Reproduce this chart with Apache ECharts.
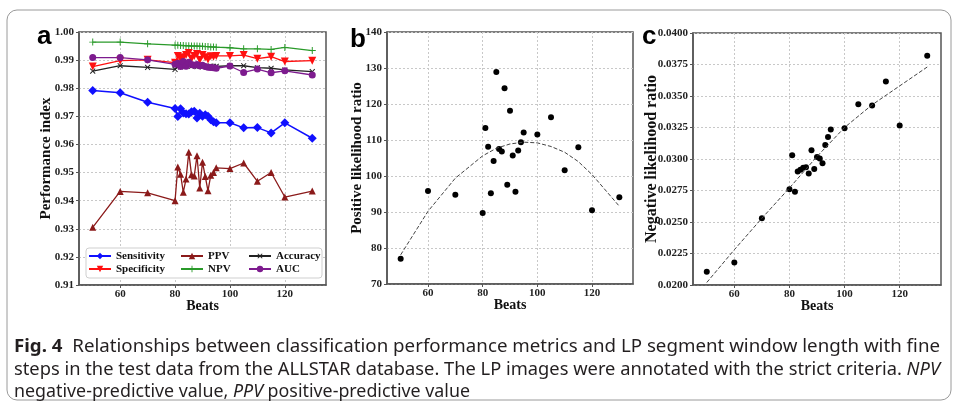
<!DOCTYPE html>
<html><head><meta charset="utf-8">
<script src="https://cdn.jsdelivr.net/npm/echarts@6/dist/echarts.min.js"></script>
<style>html,body{margin:0;padding:0;background:#fff}#c{width:956px;height:407px}</style>
</head><body><div id="c"></div>
<script>
// ---------- data ----------
const beats = [50,60,70,80,81,82,83,84,85,86,87,88,89,90,91,92,93,94,95,100,105,110,115,120,130];
const sensitivity = [0.9792,0.9784,0.9750,0.9728,0.9699,0.9727,0.9712,0.9709,0.9708,0.9716,0.9718,0.9694,0.9711,0.9700,0.9706,0.9700,0.9688,0.9681,0.9677,0.9677,0.9659,0.9660,0.9641,0.9677,0.9622];
const specificity = [0.9877,0.9898,0.9901,0.9891,0.9915,0.9905,0.9910,0.9918,0.9925,0.9905,0.9915,0.9922,0.9900,0.9918,0.9910,0.9902,0.9914,0.9912,0.9915,0.9915,0.9918,0.9905,0.9912,0.9895,0.9898];
const ppv = [0.9305,0.9433,0.9428,0.9400,0.9520,0.9494,0.9430,0.9477,0.9572,0.9492,0.9488,0.9560,0.9445,0.9537,0.9486,0.9435,0.9490,0.9500,0.9517,0.9514,0.9534,0.9469,0.9500,0.9413,0.9434];
const npv = [0.9964,0.9964,0.9958,0.9953,0.9953,0.9952,0.9952,0.9951,0.9951,0.9950,0.9950,0.9950,0.9949,0.9949,0.9948,0.9948,0.9947,0.9947,0.9946,0.9944,0.9940,0.9940,0.9938,0.9945,0.9934];
const accuracy = [0.9861,0.9880,0.9874,0.9867,0.9878,0.9876,0.9880,0.9879,0.9881,0.9878,0.9880,0.9877,0.9879,0.9876,0.9878,0.9877,0.9879,0.9878,0.9878,0.9880,0.9880,0.9873,0.9871,0.9865,0.9859];
const auc = [0.9909,0.9909,0.9901,0.9885,0.9889,0.9877,0.9895,0.9878,0.9892,0.9884,0.9882,0.9884,0.9880,0.9882,0.9877,0.9875,0.9874,0.9873,0.9871,0.9879,0.9856,0.9868,0.9855,0.9862,0.9847];
const plr = [77.0,95.8,94.8,89.7,113.3,108.1,95.2,104.2,128.9,107.5,106.8,124.4,97.6,118.1,105.7,95.6,107.1,109.4,112.1,111.5,116.3,101.6,108.0,90.5,94.1];
const nlr = [0.02105,0.02178,0.02530,0.02760,0.03030,0.02740,0.02900,0.02915,0.02930,0.02935,0.02885,0.03070,0.02920,0.03015,0.03003,0.02966,0.03112,0.03175,0.03235,0.03245,0.03435,0.03425,0.03615,0.03265,0.03820];
const plrFitBeats = [50,60,70,80,85,90,95,100,105,110,115,120,130];
const plrFit = [78.1,90.2,99.4,105.6,107.7,108.9,109.4,109.2,108.2,106.6,104.0,100.4,91.6];
const nlrFitBeats = [50,60,70,80,90,100,110,120,130];
const nlrFit = [0.0202,0.0228,0.0253,0.0277,0.0302,0.0325,0.0343,0.0358,0.0373];
const xTicks = [60,80,100,120];
// caption segments: [text, style] with style '' | 'b' | 'i'
const captionLines = [
  [['Fig. 4','b'], ['  Relationships between classification performance metrics and LP segment window length with fine','']],
  [['steps in the test data from the ALLSTAR database. The LP images were annotated with the strict criteria. ',''], ['NPV','i']],
  [['negative-predictive value, ',''], ['PPV','i'], [' positive-predictive value','']]
];

// ---------- helpers ----------
const SERIF = "'Liberation Serif','Times New Roman',serif";
const SANS = "'Liberation Sans',Arial,sans-serif";
const CAP = "'Noto Sans',sans-serif";
const CAPSIZE = 18;
const axisColor = '#555';
const gridLine = {show:true, lineStyle:{type:[2,2], color:'#c8c8c8', width:1}};
const tickFont = {fontFamily:SERIF, fontWeight:'bold', fontSize:11, color:'#222'};
function xAxisCfg(gi){
  return {type:'value', gridIndex:gi, min:45, max:135,
    name:'Beats', nameLocation:'middle', nameGap:14, nameMoveOverlap:false,
    nameTextStyle:{fontFamily:SERIF, fontWeight:'bold', fontSize:14, color:'#111'},
    axisLine:{show:true, onZero:false, lineStyle:{color:axisColor, width:1.5}},
    axisTick:{show:true, customValues:xTicks, length:3, lineStyle:{color:axisColor}},
    axisLabel:Object.assign({customValues:xTicks, margin:4}, tickFont),
    splitLine:gridLine};
}
function yAxisCfg(gi, min, max, interval, dec, name, gap, fs){
  return {type:'value', gridIndex:gi, min, max, interval,
    name, nameLocation:'middle', nameGap:gap, nameMoveOverlap:false,
    nameTextStyle:{fontFamily:SERIF, fontWeight:'bold', fontSize:fs, color:'#111'},
    axisLine:{show:true, onZero:false, lineStyle:{color:axisColor, width:1.5}},
    axisTick:{show:true, length:3, lineStyle:{color:axisColor}},
    axisLabel:Object.assign({formatter:v=>v.toFixed(dec), margin:5}, tickFont),
    splitLine:gridLine};
}
const PLUS = 'path://M4.3,0H5.7V4.3H10V5.7H5.7V10H4.3V5.7H0V4.3H4.3Z';
function lineSeries(name, vals, color, symbol, size, extra){
  return Object.assign({type:'line', name, xAxisIndex:0, yAxisIndex:0,
    data: beats.map((b,i)=>[b, vals[i]]), symbol, symbolSize:size,
    lineStyle:{color, width:1.3}, itemStyle:{color, opacity:1}, emphasis:{disabled:true}, animation:false}, extra||{});
}

// caption lines, each scaled to the width of the reference line
const cv = document.createElement('canvas').getContext('2d');
function segFont(s){ return (s==='b'?'bold ':s==='i'?'italic ':'') + CAPSIZE + 'px ' + CAP; }
const capTargets = [926, 926, 456];
const capRich = {
  b:{fontFamily:CAP, fontSize:CAPSIZE, fontWeight:'bold', fill:'#231f20'},
  i:{fontFamily:CAP, fontSize:CAPSIZE, fontStyle:'italic', fill:'#231f20'}
};
const capGraphics = captionLines.map((segs, li) => {
  let w = 0;
  segs.forEach(([t,s]) => { cv.font = segFont(s); w += cv.measureText(t).width; });
  const text = segs.map(([t,s]) => s ? '{' + s + '|' + t + '}' : t).join('');
  return {type:'text', x:14, y:347 + li*22.5, scaleX: capTargets[li]/w, z:10,
    style:{text, fontFamily:CAP, fontSize:CAPSIZE, fill:'#231f20', verticalAlign:'middle', rich:capRich}};
});

const chart = echarts.init(document.getElementById('c'), null, {renderer:'canvas'});
const legendText = {fontFamily:SERIF, fontWeight:'bold', fontSize:11, color:'#111', lineHeight:13};
function legendCfg(left, data){
  return {orient:'vertical', left, top:249.5, data, itemWidth:22, itemHeight:8, itemGap:0,
    padding:0, textStyle:legendText, selectedMode:false};
}
chart.setOption({
  backgroundColor:'#fff',
  animation:false,
  grid:[
    {left:79, top:32, width:247, height:253, show:true, borderColor:axisColor, borderWidth:1.5},
    {left:387, top:32, width:246, height:252, show:true, borderColor:axisColor, borderWidth:1.5},
    {left:693, top:33, width:248, height:252, show:true, borderColor:axisColor, borderWidth:1.5}
  ],
  xAxis:[xAxisCfg(0), xAxisCfg(1), xAxisCfg(2)],
  yAxis:[
    yAxisCfg(0, 0.91, 1.00, 0.01, 2, 'Performance index', 25, 15),
    yAxisCfg(1, 70, 140, 10, 0, 'Positive likelihood ratio', 22, 15),
    yAxisCfg(2, 0.02, 0.04, 0.0025, 4, 'Negative likelihood ratio', 33, 16)
  ],
  legend:[
    legendCfg(88, ['Sensitivity','Specificity']),
    legendCfg(180, ['PPV','NPV']),
    legendCfg(248, ['Accuracy','AUC'])
  ],
  series:[
    lineSeries('NPV', npv, '#2a9a2a', PLUS, 7),
    lineSeries('Accuracy', accuracy, '#222222', PLUS, 7, {symbolRotate:45}),
    lineSeries('Specificity', specificity, '#ff1010', 'triangle', 8, {symbolRotate:180}),
    lineSeries('AUC', auc, '#7d1b8e', 'circle', 7),
    lineSeries('Sensitivity', sensitivity, '#1010ff', 'diamond', 9, {lineStyle:{color:'#1010ff', width:1.5}}),
    lineSeries('PPV', ppv, '#8b1a1a', 'triangle', 7),
    {type:'line', xAxisIndex:1, yAxisIndex:1, data:plrFitBeats.map((b,i)=>[b,plrFit[i]]), symbol:'none',
      lineStyle:{color:'#444', width:1, type:[4,2]}, animation:false},
    {type:'scatter', xAxisIndex:1, yAxisIndex:1, data:beats.map((b,i)=>[b,plr[i]]), symbolSize:6,
      itemStyle:{color:'#000', opacity:1}, animation:false},
    {type:'line', xAxisIndex:2, yAxisIndex:2, data:nlrFitBeats.map((b,i)=>[b,nlrFit[i]]), symbol:'none',
      lineStyle:{color:'#444', width:1, type:[4,2]}, animation:false},
    {type:'scatter', xAxisIndex:2, yAxisIndex:2, data:beats.map((b,i)=>[b,nlr[i]]), symbolSize:6,
      itemStyle:{color:'#000', opacity:1}, animation:false}
  ],
  graphic:[
    {type:'rect', shape:{x:7, y:10, width:944, height:390, r:10}, style:{fill:'none', stroke:'#9a9a9a', lineWidth:1}, silent:true, z:-1},
    {type:'rect', shape:{x:86, y:248, width:236, height:30, r:3}, style:{fill:'#fff', stroke:'#cfcfcf', lineWidth:1}, silent:true, z:2},
    {type:'text', x:37, y:50, style:{text:'a', font:'bold 26px ' + SANS, fill:'#000', verticalAlign:'bottom'}, z:10},
    {type:'text', x:350, y:53, style:{text:'b', font:'bold 26px ' + SANS, fill:'#000', verticalAlign:'bottom'}, z:10},
    {type:'text', x:642, y:50, style:{text:'c', font:'bold 26px ' + SANS, fill:'#000', verticalAlign:'bottom'}, z:10}
  ].concat(capGraphics)
});
</script></body></html>
